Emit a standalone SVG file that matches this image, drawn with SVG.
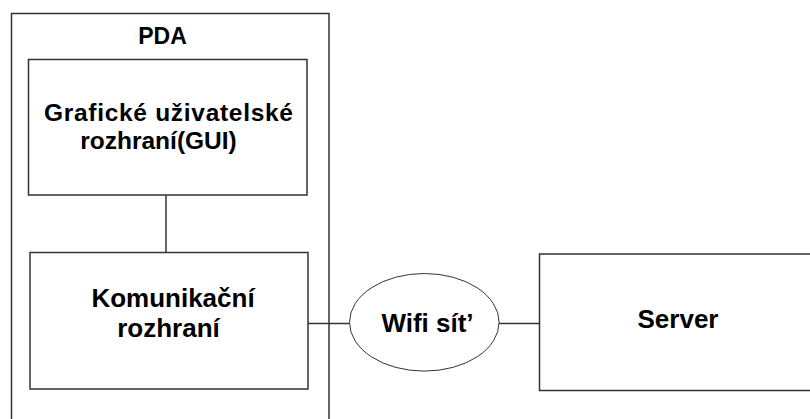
<svg xmlns="http://www.w3.org/2000/svg" width="810" height="419" viewBox="0 0 810 419">
<style>
.box{fill:#fff;stroke:#333;stroke-width:1.5}
.ln{stroke:#333;stroke-width:1.5;fill:none}
.t{font-family:"Liberation Sans",Arial,sans-serif;font-weight:bold;font-size:26px;fill:#000}
.s{font-size:24.5px}
</style>
<rect width="810" height="419" fill="#fff"/>
<g id="pda">
<rect class="box" x="11.5" y="13.5" width="317.5" height="420"/>
<text class="t" x="162.5" y="44" text-anchor="middle" style="font-size:23px">PDA</text>
</g>
<g id="connectors">
<line class="ln" x1="166" y1="195" x2="166" y2="252.5"/>
<line class="ln" x1="308" y1="323.5" x2="349.5" y2="323.5"/>
<line class="ln" x1="499" y1="323.5" x2="539.5" y2="323.5"/>
</g>
<g id="gui">
<rect class="box" x="28.5" y="59.5" width="278.5" height="135.5"/>
<text class="t s" x="168.5" y="120.5" text-anchor="middle" textLength="249" lengthAdjust="spacing">Grafické uživatelské</text>
<text class="t s" x="158.5" y="149" text-anchor="middle">rozhraní(GUI)</text>
</g>
<g id="komunikacni">
<rect class="box" x="30" y="252.5" width="278" height="136.5"/>
<text class="t" x="173" y="307" text-anchor="middle">Komunikační</text>
<text class="t" x="168.5" y="337" text-anchor="middle">rozhraní</text>
</g>
<g id="wifi">
<ellipse cx="424.3" cy="322.3" rx="74.8" ry="48.8" fill="#fff" stroke="#333" stroke-width="1"/>
<text class="t" x="427.5" y="331.5" text-anchor="middle">Wifi sít’</text>
</g>
<g id="server">
<rect class="box" x="539.5" y="254" width="290" height="136.5"/>
<text class="t" x="678" y="328" text-anchor="middle">Server</text>
</g>
</svg>
